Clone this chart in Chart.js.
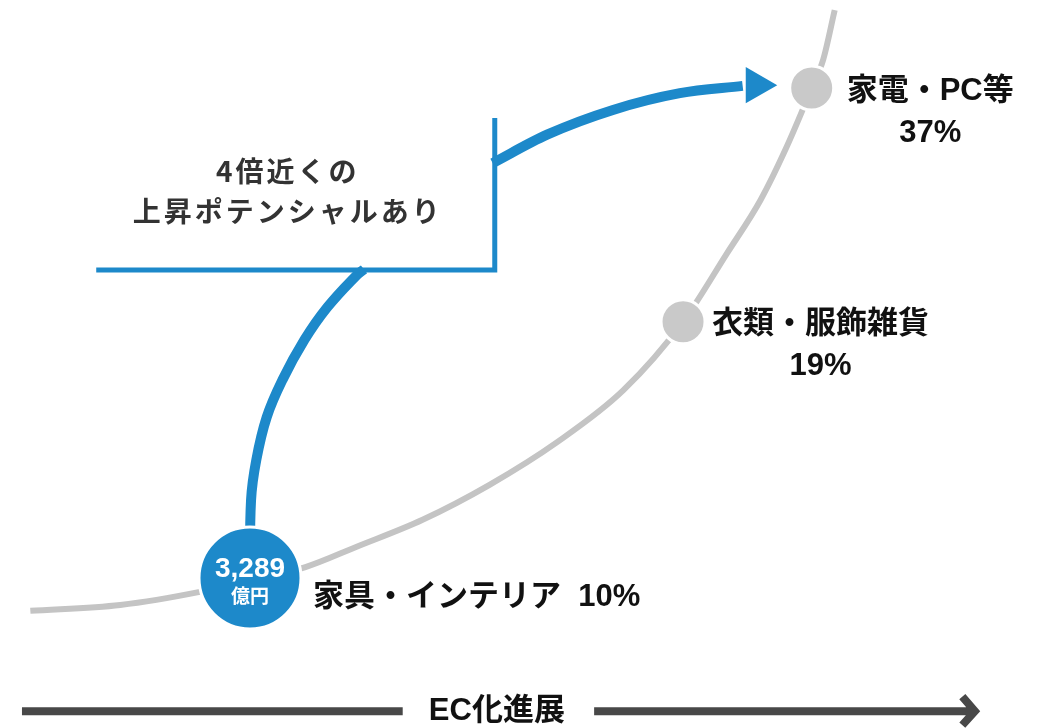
<!DOCTYPE html>
<html lang="ja">
<head>
<meta charset="utf-8">
<title>EC化進展</title>
<script src="https://cdn.jsdelivr.net/npm/chart.js@4.4.1/dist/chart.umd.min.js"></script>
<style>
  html, body { margin: 0; padding: 0; background: #fff; }
  #wrap { width: 1046px; height: 728px; }
</style>
</head>
<body>
<div id="wrap"><canvas id="ecChart" width="1046" height="728"></canvas></div>
<script>
// カテゴリ別のEC化率と曲線上の位置（横: EC化の進展 / 縦: 浸透度, 0-100）
var categories = ['家具・インテリア', '衣類・服飾雑貨', '家電・PC等'];
var ecRates = [10, 19, 37];
var categoryProgress = [23.9, 65.3, 77.6];
var categoryLevel = [20.6, 55.8, 87.9];
var marketSize = '3,289';
var marketUnit = '億円';

// EC化の曲線
var curveProgress = [2.9, 11.5, 19.1, 29.2, 34.1, 40.4, 46.8, 53.3, 59.6, 65.3, 69.5, 72.7, 75.2, 77.6, 78.7, 79.8];
var curveLevel = [16.1, 16.9, 18.7, 22.1, 24.9, 28.6, 33.4, 39.3, 46.4, 55.8, 65.2, 72.5, 79.8, 87.9, 91.8, 98.6];

// 家具・インテリアの上昇ポテンシャル
var potentialProgress = [23.9, 24.0, 24.5, 25.5, 27.0, 29.1, 31.3, 34.1, 34.8];
var potentialLevel = [20.6, 31.3, 36.8, 42.7, 47.8, 53.3, 57.8, 62.2, 63.0];
var boxProgress = [9.2, 47.3, 47.3];
var boxLevel = [62.9, 62.9, 83.8];
var arrowProgress = [47.1, 52.3, 58.6, 65.0, 71.0];
var arrowLevel = [77.6, 81.5, 84.9, 87.2, 88.2];
var arrowHeadProgress = [72.3];
var arrowHeadLevel = [88.3];
var calloutLines = ['4倍近くの', '上昇ポテンシャルあり'];

// 下部の軸（EC化進展）
var axisTitle = 'EC化進展';
var axisProgress = [2.1, 38.5, 47.5, 56.8, 93.2, 93.0, 92.0, 93.2, 92.0];
var axisLevel = [2.3, 2.3, null, 2.3, 2.3, null, 4.3, 2.3, 0.4];

var BLUE = '#1d89ca';
var GRAY_LINE = '#c4c4c4';
var GRAY_DOT = '#c9c9c9';

function toPoints(xs, ys) {
    return xs.map(function(x, i) { return { x: x, y: ys[i] }; });
}

// 文字（円内の金額、カテゴリ名、吹き出し、軸タイトル）
var textPlugin = {
    id: 'ecText',
    afterDatasetsDraw: function(chart, args, opts) {
        var ctx = chart.ctx;
        var sx = chart.scales.x, sy = chart.scales.y;
        var labelFont = 'bold 31px "Liberation Sans", "Noto Sans CJK JP", sans-serif';
        ctx.save();
        ctx.textBaseline = 'middle';

        // 円内の金額
        var cx = sx.getPixelForValue(categoryProgress[0]);
        var cy = sy.getPixelForValue(categoryLevel[0]);
        ctx.fillStyle = '#ffffff';
        ctx.textAlign = 'center';
        ctx.font = 'bold 28px "Liberation Sans", "Noto Sans CJK JP", sans-serif';
        ctx.fillText(marketSize, cx, cy - 9);
        ctx.font = 'bold 19px "Noto Sans CJK JP", sans-serif';
        ctx.fillText(marketUnit, cx, cy + 18);

        // カテゴリ名とEC化率
        ctx.fillStyle = '#111111';
        ctx.font = labelFont;
        categories.forEach(function(name, i) {
            var px = sx.getPixelForValue(categoryProgress[i]) + opts.gap[i];
            var py = sy.getPixelForValue(categoryLevel[i]);
            if (i === 0) {
                ctx.textAlign = 'left';
                ctx.fillText(name + '  ' + ecRates[i] + '%', px, py + 19);
            } else {
                var w = ctx.measureText(name).width;
                ctx.textAlign = 'left';
                ctx.fillText(name, px, py + 3);
                ctx.textAlign = 'center';
                ctx.fillText(ecRates[i] + '%', px + w / 2, py + 45);
            }
        });

        // 吹き出しの文言
        ctx.fillStyle = '#333333';
        ctx.textAlign = 'center';
        ctx.font = 'bold 28px "Noto Sans CJK JP", sans-serif';
        ctx.letterSpacing = '3px';
        calloutLines.forEach(function(line, i) {
            ctx.fillText(line, sx.getPixelForValue(opts.callout.x), sy.getPixelForValue(opts.callout.y[i]));
        });
        ctx.letterSpacing = '0px';

        // 軸タイトル
        ctx.fillStyle = '#111111';
        ctx.font = 'bold 31px "Liberation Sans Narrow", "Liberation Sans", "Noto Sans CJK JP", sans-serif';
        ctx.fillText(axisTitle, sx.getPixelForValue(axisProgress[2]), sy.getPixelForValue(axisLevel[0]));
        ctx.restore();
    }
};

new Chart(document.getElementById('ecChart'), {
    type: 'scatter',
    data: {
        datasets: [
            {
                // カテゴリの円
                data: toPoints(categoryProgress, categoryLevel),
                backgroundColor: [BLUE, GRAY_DOT, GRAY_DOT],
                borderColor: '#ffffff',
                borderWidth: 3,
                pointRadius: [51, 22, 22],
                order: 0
            },
            {
                // 矢印の先端
                data: toPoints(arrowHeadProgress, arrowHeadLevel),
                pointStyle: 'triangle',
                rotation: 90,
                pointRadius: 21,
                backgroundColor: BLUE,
                borderWidth: 0,
                order: 1
            },
            {
                data: toPoints(arrowProgress, arrowLevel),
                showLine: true,
                borderColor: BLUE,
                borderWidth: 10,
                cubicInterpolationMode: 'monotone',
                pointRadius: 0,
                order: 2
            },
            {
                data: toPoints(boxProgress, boxLevel),
                showLine: true,
                borderColor: BLUE,
                borderWidth: 5,
                borderJoinStyle: 'miter',
                tension: 0,
                pointRadius: 0,
                order: 2
            },
            {
                data: toPoints(potentialProgress, potentialLevel),
                showLine: true,
                borderColor: BLUE,
                borderWidth: 10,
                tension: 0.4,
                pointRadius: 0,
                order: 3
            },
            {
                // EC化の曲線
                data: toPoints(curveProgress, curveLevel),
                showLine: true,
                borderColor: GRAY_LINE,
                borderWidth: 6,
                cubicInterpolationMode: 'monotone',
                pointRadius: 0,
                order: 4
            },
            {
                // 下部の軸矢印
                data: toPoints(axisProgress, axisLevel),
                showLine: true,
                spanGaps: false,
                borderColor: '#484848',
                borderWidth: 8,
                borderJoinStyle: 'miter',
                tension: 0,
                pointRadius: 0,
                order: 5
            }
        ]
    },
    options: {
        responsive: false,
        animation: false,
        events: [],
        layout: { padding: 0, autoPadding: false },
        scales: {
            x: { display: false, min: 0, max: 100 },
            y: { display: false, min: 0, max: 100 }
        },
        plugins: {
            legend: { display: false },
            tooltip: { enabled: false },
            ecText: {
                gap: [63, 29, 35],
                callout: { x: 27.5, y: [76.4, 70.9] }
            }
        }
    },
    plugins: [textPlugin]
});
</script>
</body>
</html>
